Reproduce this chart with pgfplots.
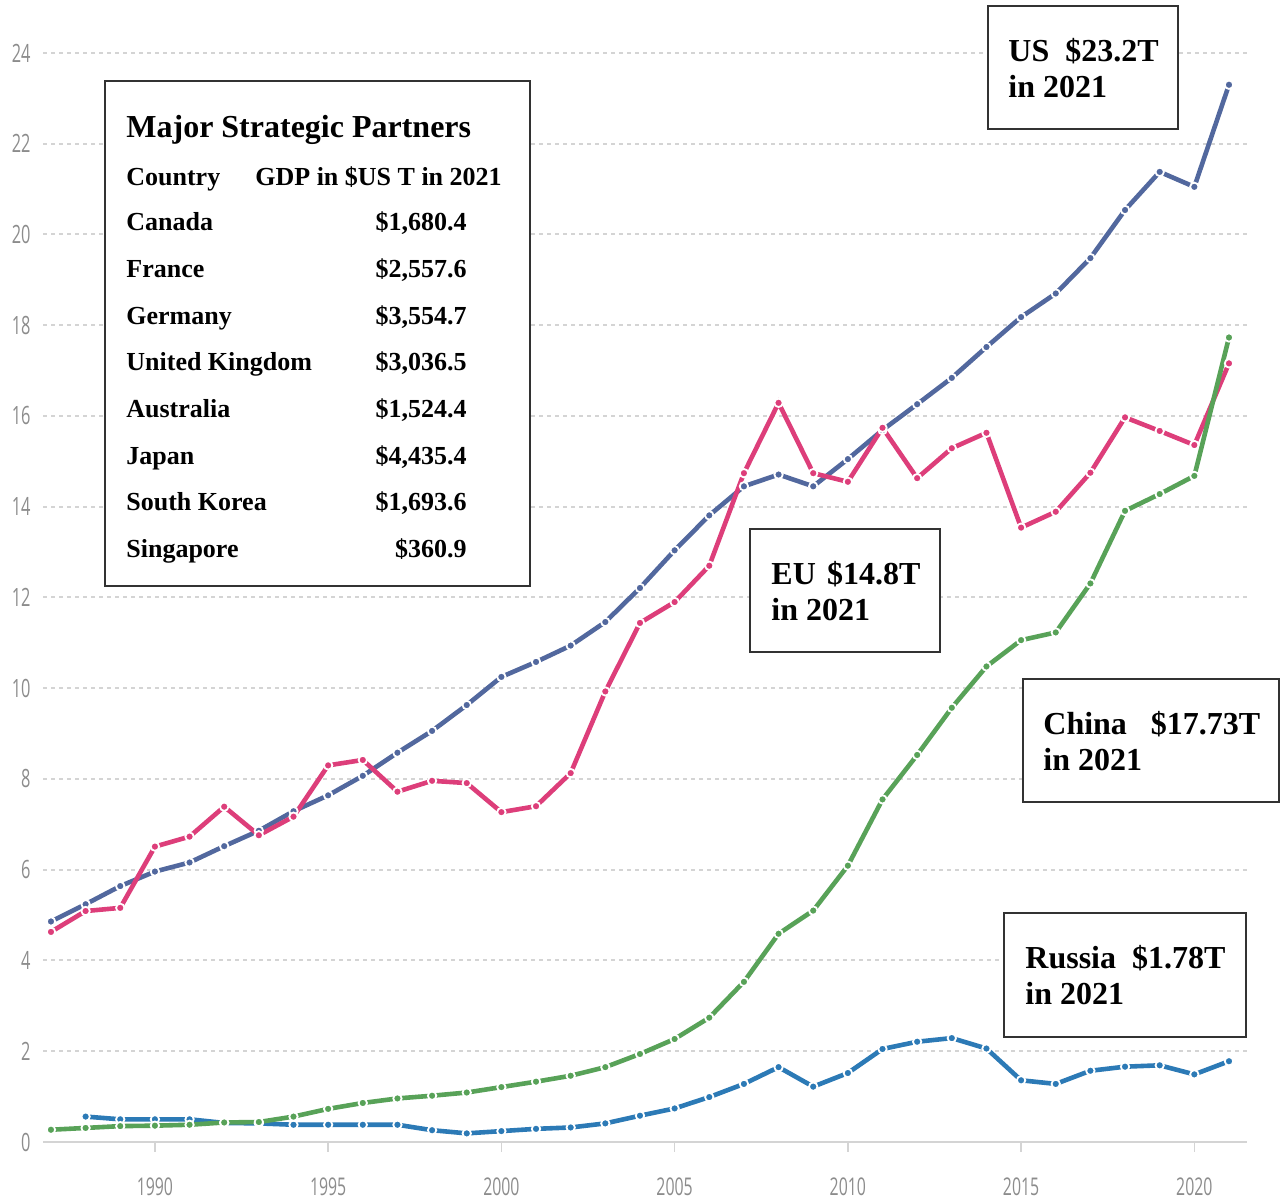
\documentclass[border=0pt]{standalone}
\usepackage{pgfplots}
\pgfplotsset{compat=1.18}
\usepackage{fontspec}
\setmainfont{Liberation Serif}
\newfontfamily\tickfont[FakeStretch=0.65]{Open Sans}
\definecolor{usc}{RGB}{82,104,158}
\definecolor{euc}{RGB}{221,62,122}
\definecolor{cnc}{RGB}{88,162,88}
\definecolor{ruc}{RGB}{44,122,182}
\definecolor{tickc}{RGB}{140,140,140}
\definecolor{gridc}{RGB}{212,212,212}
\definecolor{boxc}{RGB}{50,50,50}

\pgfplotstableread{
x y
1987 4.86
1988 5.24
1989 5.64
1990 5.96
1991 6.16
1992 6.52
1993 6.86
1994 7.29
1995 7.64
1996 8.07
1997 8.58
1998 9.06
1999 9.63
2000 10.25
2001 10.58
2002 10.94
2003 11.46
2004 12.21
2005 13.04
2006 13.81
2007 14.45
2008 14.71
2009 14.45
2010 15.05
2011 15.69
2012 16.26
2013 16.84
2014 17.52
2015 18.18
2016 18.70
2017 19.48
2018 20.54
2019 21.38
2020 21.05
2021 23.30
}\ustable

\pgfplotstableread{
x y
1987 4.63
1988 5.09
1989 5.16
1990 6.51
1991 6.73
1992 7.39
1993 6.76
1994 7.17
1995 8.30
1996 8.42
1997 7.72
1998 7.96
1999 7.91
2000 7.27
2001 7.40
2002 8.13
2003 9.93
2004 11.44
2005 11.90
2006 12.70
2007 14.74
2008 16.29
2009 14.74
2010 14.55
2011 15.74
2012 14.63
2013 15.29
2014 15.63
2015 13.54
2016 13.89
2017 14.75
2018 15.97
2019 15.67
2020 15.36
2021 17.16
}\eutable

\pgfplotstableread{
x y
1987 0.27
1988 0.31
1989 0.35
1990 0.36
1991 0.38
1992 0.43
1993 0.44
1994 0.56
1995 0.73
1996 0.86
1997 0.96
1998 1.02
1999 1.09
2000 1.21
2001 1.33
2002 1.46
2003 1.65
2004 1.94
2005 2.27
2006 2.74
2007 3.53
2008 4.59
2009 5.10
2010 6.09
2011 7.55
2012 8.53
2013 9.57
2014 10.48
2015 11.06
2016 11.23
2017 12.31
2018 13.91
2019 14.28
2020 14.68
2021 17.73
}\cntable

\pgfplotstableread{
x y
1988 0.56
1989 0.50
1990 0.50
1991 0.50
1992 0.42
1993 0.41
1994 0.38
1995 0.38
1996 0.38
1997 0.38
1998 0.26
1999 0.19
2000 0.24
2001 0.29
2002 0.32
2003 0.41
2004 0.58
2005 0.74
2006 0.99
2007 1.28
2008 1.65
2009 1.22
2010 1.52
2011 2.05
2012 2.21
2013 2.29
2014 2.06
2015 1.36
2016 1.28
2017 1.57
2018 1.66
2019 1.69
2020 1.49
2021 1.78
}\rutable

\begin{document}
\begin{tikzpicture}[x=1pt,y=1pt]
\useasboundingbox (-21.5,-29) rectangle (619.0,571);
\begin{axis}[
  at={(0,0)}, anchor=south west,
  scale only axis, width=602pt, height=544.5pt,
  xmin=1986.77, xmax=2021.52, ymin=0, ymax=24,
  clip=false,
  axis x line*=bottom, axis y line*=left,
  y axis line style={draw=none},
  x axis line style={color=gridc, line width=1pt},
  xtick={1990,1995,...,2020},
  ytick={0,2,...,24},
  ymajorgrids,
  grid style={color=gridc, line width=1pt, dash pattern=on 2pt off 2pt},
  tick align=outside,
  xtick style={color=gridc, line width=0.8pt},
  major tick length=5pt,
  ytick style={draw=none},
  /pgf/number format/assume math mode=true,
  xticklabel style={inner sep=0pt, anchor=north, yshift=-12.5pt, font=\tickfont\fontsize{12.2}{13}\selectfont},
  yticklabel style={inner sep=0pt, anchor=east, xshift=-1pt, font=\tickfont\fontsize{12.6}{14}\selectfont},
  ticklabel style={color=tickc},
  xticklabel={\pgfmathprintnumber[set thousands separator={}]{\tick}},
  every axis plot/.append style={line width=2.3pt, mark=*, mark size=2.1pt},
]
\addplot[ruc, mark options={fill=ruc, draw=white, line width=0.9pt}] table[x=x,y=y] {\rutable};
\addplot[usc, mark options={fill=usc, draw=white, line width=0.9pt}] table[x=x,y=y] {\ustable};
\addplot[euc, mark options={fill=euc, draw=white, line width=0.9pt}] table[x=x,y=y] {\eutable};
\addplot[cnc, mark options={fill=cnc, draw=white, line width=0.9pt}] table[x=x,y=y] {\cntable};
\end{axis}

% boxes
\draw[boxc, line width=1pt, fill=white] (31,278) rectangle (243.5,530.5);
\draw[boxc, line width=1pt, fill=white] (472.5,506.5) rectangle (567.5,568);
\draw[boxc, line width=1pt, fill=white] (353.5,245) rectangle (448.5,306.5);
\draw[boxc, line width=1pt, fill=white] (490,170) rectangle (618,231.5);
\draw[boxc, line width=1pt, fill=white] (480.5,52.5) rectangle (601.5,114.5);

\begin{scope}[every node/.style={inner sep=0pt, anchor=base west}]
\node[font=\fontsize{16}{18}\selectfont\bfseries] at (41.5,502) {Major Strategic Partners};
\begin{scope}[every node/.append style={font=\fontsize{13}{15}\selectfont\bfseries}]
\node at (41.5,478) {Country};
\node at (106,478) {GDP in \$US T in 2021};
\node at (41.5,455.5) {Canada};
\node at (41.5,432) {France};
\node at (41.5,408.5) {Germany};
\node at (41.5,385.5) {United Kingdom};
\node at (41.5,362) {Australia};
\node at (41.5,338.5) {Japan};
\node at (41.5,315.5) {South Korea};
\node at (41.5,292) {Singapore};
\node[anchor=base east] at (212,455.5) {\$1,680.4};
\node[anchor=base east] at (212,432) {\$2,557.6};
\node[anchor=base east] at (212,408.5) {\$3,554.7};
\node[anchor=base east] at (212,385.5) {\$3,036.5};
\node[anchor=base east] at (212,362) {\$1,524.4};
\node[anchor=base east] at (212,338.5) {\$4,435.4};
\node[anchor=base east] at (212,315.5) {\$1,693.6};
\node[anchor=base east] at (212,292) {\$360.9};
\end{scope}
\begin{scope}[every node/.append style={font=\fontsize{16}{18}\selectfont\bfseries}]
\node at (482.5,540) {US\hspace{0.5em}\$23.2T};
\node at (482.5,522) {in 2021};
\node at (364,278.5) {EU\hspace{0.35em}\$14.8T};
\node at (364,260.5) {in 2021};
\node at (500,203.5) {China\hspace{0.75em}\$17.73T};
\node at (500,185.5) {in 2021};
\node at (491,86.5) {Russia\hspace{0.5em}\$1.78T};
\node at (491,68.5) {in 2021};
\end{scope}
\end{scope}
\end{tikzpicture}
\end{document}
